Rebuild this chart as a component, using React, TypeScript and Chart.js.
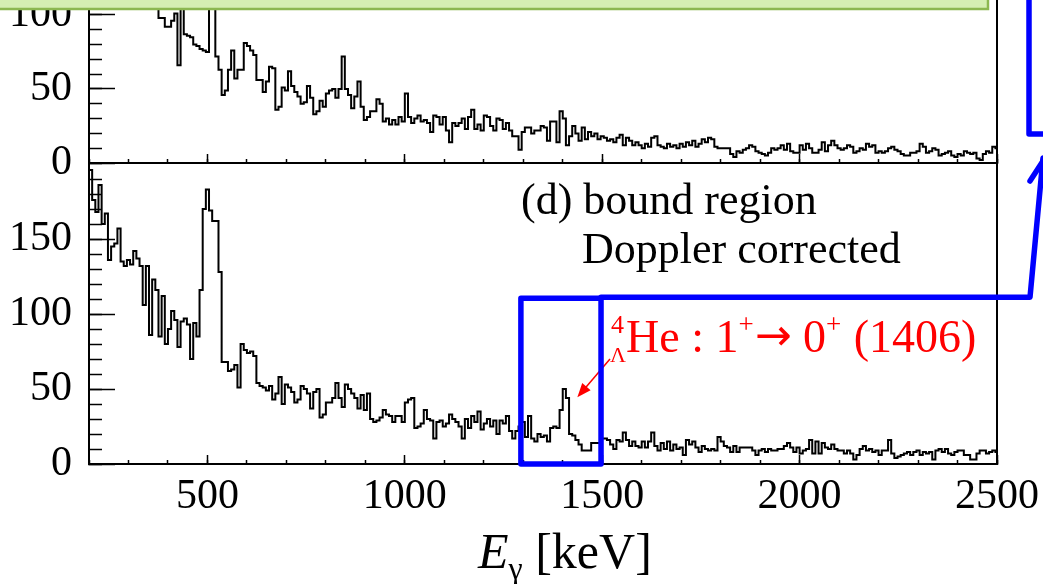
import { useEffect, useRef } from 'react';
import { Chart, registerables } from 'chart.js';

Chart.register(...registerables);

const FONT = '"Liberation Serif", "Times New Roman", Times, serif';
const ARROW_FONT = '"DejaVu Sans", sans-serif';
const RED = '#ff0000';
const BLUE = '#0000ff';

// histogram binning (keV)
const binStart = 200;
const binWidth = 8;
const energyMin = 200;
const energyMax = 2500;

// upper panel (cut off at the top of the picture)
const upperCounts = [
  250, 235, 240, 220, 210, 215, 190, 185, 175, 180, 165, 160, 155, 150, 145, 140, 135, 130, 122, 118, 109, 104, 98, 98,
  92, 92, 96, 101, 66, 118, 87, 86, 85, 80, 79, 77, 76, 75, 150, 135, 72, 63, 46, 49, 63, 76, 57, 63,
  63, 81, 79, 76, 73, 56, 56, 48, 55, 65, 64, 36, 38, 51, 49, 62, 52, 48, 45, 40, 41, 52, 44, 33,
  35, 42, 38, 47, 49, 50, 44, 50, 72, 50, 46, 37, 45, 55, 38, 29, 31, 35, 35, 43, 40, 28, 30, 26,
  29, 26, 31, 28, 47, 31, 27, 30, 32, 28, 29, 27, 21, 32, 31, 26, 31, 22, 14, 27, 25, 27, 30, 23,
  31, 36, 23, 26, 22, 32, 31, 25, 22, 30, 29, 23, 27, 22, 18, 18, 9, 21, 24, 24, 20, 22, 22, 25,
  24, 15, 28, 28, 14, 35, 30, 12, 18, 25, 20, 15, 24, 16, 21, 18, 20, 16, 18, 17, 15, 16, 14, 17,
  19, 12, 17, 15, 12, 14, 12, 10, 13, 11, 17, 18, 12, 11, 10, 13, 11, 12, 10, 13, 11, 14, 12, 15,
  11, 13, 16, 14, 17, 16, 11, 10, 10, 10, 10, 6, 4, 8, 7, 9, 10, 12, 11, 8, 7, 6, 5, 7,
  10, 9, 10, 12, 9, 13, 8, 7, 7, 12, 9, 13, 10, 7, 7, 9, 14, 8, 12, 15, 12, 10, 9, 10,
  12, 11, 7, 8, 10, 9, 13, 11, 12, 7, 8, 7, 8, 10, 11, 9, 8, 6, 5, 5, 7, 7, 8, 13,
  11, 7, 8, 10, 9, 5, 6, 7, 8, 5, 4, 6, 5, 8, 7, 6, 7, 3, 2, 6, 8, 7, 11, 10,
];

// lower panel: (d) bound region, Doppler corrected
const lowerCounts = [
  196, 176, 168, 186, 160, 167, 136, 145, 147, 157, 135, 132, 136, 133, 142, 137, 132, 106, 132, 86, 123, 116, 85, 112,
  80, 90, 102, 96, 78, 95, 97, 93, 70, 94, 85, 116, 170, 183, 169, 162, 162, 128, 68, 68, 62, 63, 66, 51,
  80, 76, 74, 75, 72, 54, 52, 51, 49, 52, 43, 47, 58, 40, 53, 51, 48, 41, 43, 52, 50, 47, 37, 48,
  50, 31, 33, 41, 41, 44, 54, 44, 38, 53, 50, 47, 44, 37, 46, 36, 47, 30, 28, 29, 31, 36, 33, 32,
  28, 32, 32, 28, 41, 43, 44, 24, 25, 27, 36, 30, 29, 17, 28, 29, 25, 27, 33, 30, 28, 25, 17, 30,
  24, 32, 28, 35, 23, 27, 30, 25, 29, 20, 29, 27, 32, 22, 17, 22, 25, 28, 18, 32, 17, 15, 20, 18,
  19, 15, 24, 25, 24, 36, 50, 44, 20, 19, 16, 13, 9, 9, 9, 14, 14, 14, 17, 17, 16, 13, 10, 16,
  15, 21, 16, 12, 15, 12, 11, 15, 11, 15, 21, 12, 9, 14, 10, 15, 9, 13, 10, 11, 6, 16, 13, 15,
  11, 8, 12, 10, 9, 10, 9, 18, 15, 12, 11, 8, 12, 8, 11, 11, 11, 11, 9, 6, 9, 10, 8, 10,
  9, 9, 10, 10, 12, 14, 11, 8, 11, 7, 9, 10, 16, 7, 15, 7, 14, 11, 10, 13, 10, 9, 9, 7,
  9, 7, 3, 6, 10, 12, 9, 10, 8, 9, 6, 9, 9, 16, 7, 4, 5, 6, 7, 8, 6, 8, 9, 6,
  8, 7, 8, 3, 9, 10, 8, 10, 7, 6, 8, 9, 9, 6, 6, 3, 3, 7, 9, 9, 7, 8, 9, 8,
];

const xMajorTicks = [500, 1000, 1500, 2000, 2500];
const xMinorTicks = [200, 300, 400, 500, 600, 700, 800, 900, 1000, 1100, 1200, 1300, 1400, 1500, 1600, 1700, 1800, 1900, 2000, 2100, 2200, 2300, 2400, 2500];
const upperYMajorTicks = [0, 50, 100];
const upperYMinorTicks = [0, 10, 20, 30, 40, 50, 60, 70, 80, 90, 100, 110];
const lowerYMajorTicks = [0, 50, 100, 150];
const lowerYMinorTicks = [0, 10, 20, 30, 40, 50, 60, 70, 80, 90, 100, 110, 120, 130, 140, 150, 160, 170, 180, 190];

const upperYMax = 110.1;
const lowerYMax = 200.7;

const panelText = ['(d) bound region', 'Doppler corrected'];
const peakText = {
  mass: '4',
  hyperon: 'Λ',
  rest: [
    { t: 'He : 1', k: 'main' },
    { t: '+', k: 'sup' },
    { t: '→', k: 'arrow' },
    { t: ' 0', k: 'main' },
    { t: '+', k: 'sup' },
    { t: ' (1406)', k: 'main' },
  ],
};
const axisTitle = { symbol: 'E', sub: 'γ', unit: ' [keV]' };

function histogramPoints(counts: number[]) {
  const pts: { x: number; y: number }[] = [];
  counts.forEach((c, i) => {
    const lo = binStart + i * binWidth;
    pts.push({ x: lo, y: c }, { x: lo + binWidth, y: c });
  });
  return pts;
}

const tickSetter = (values: number[]) => (scale: any) => {
  scale.ticks = values.map((v) => ({ value: v }));
};
const zeroPad = (s: any) => {
  s.paddingTop = 0;
  s.paddingBottom = 0;
  s.paddingLeft = 0;
  s.paddingRight = 0;
};

function buildScales(upper: boolean) {
  const tickFont = { family: FONT, size: 42 };
  const yMax = upper ? upperYMax : lowerYMax;
  return {
    xMinor: {
      type: 'linear', position: 'bottom', weight: 0, min: energyMin, max: energyMax,
      afterBuildTicks: tickSetter(xMinorTicks),
      afterFit: (s: any) => { s.height = 0; zeroPad(s); },
      ticks: { display: false },
      grid: { drawOnChartArea: false, drawTicks: true, tickLength: -4, tickWidth: 1.5, tickColor: '#000' },
      border: { display: false },
    },
    x: {
      type: 'linear', position: 'bottom', weight: 1, min: energyMin, max: energyMax,
      afterBuildTicks: tickSetter(xMajorTicks),
      afterFit: (s: any) => { s.height = upper ? 0 : 120; zeroPad(s); },
      ticks: {
        display: !upper, autoSkip: false, maxRotation: 0, minRotation: 0, padding: 17,
        font: tickFont, color: '#000', callback: (v: any) => String(v),
      },
      grid: { drawOnChartArea: false, drawTicks: true, tickLength: -9, tickWidth: 1.5, tickColor: '#000' },
      border: { display: true, color: '#000', width: 2 },
    },
    yMinor: {
      type: 'linear', position: 'left', weight: 0, min: 0, max: yMax,
      afterBuildTicks: tickSetter(upper ? upperYMinorTicks : lowerYMinorTicks),
      afterFit: (s: any) => { s.width = 0; zeroPad(s); },
      ticks: { display: false },
      grid: { drawOnChartArea: false, drawTicks: true, tickLength: -13, tickWidth: 1.5, tickColor: '#000' },
      border: { display: false },
    },
    y: {
      type: 'linear', position: 'left', weight: 1, min: 0, max: yMax,
      afterBuildTicks: tickSetter(upper ? upperYMajorTicks : lowerYMajorTicks),
      afterFit: (s: any) => { s.width = 89; zeroPad(s); },
      ticks: {
        display: true, autoSkip: false, padding: 43, font: tickFont, color: '#000',
        callback: (v: any) => String(v),
      },
      grid: { drawOnChartArea: false, drawTicks: true, tickLength: -26, tickWidth: 1.5, tickColor: '#000' },
      border: { display: true, color: '#000', width: 2 },
    },
  };
}

const upperDecor = {
  id: 'upperDecor',
  afterDraw(chart: any) {
    const ctx = chart.ctx;
    const a = chart.chartArea;
    ctx.save();
    ctx.strokeStyle = '#000';
    ctx.lineWidth = 2;
    ctx.beginPath();
    ctx.moveTo(a.right, a.top - 5);
    ctx.lineTo(a.right, a.bottom);
    ctx.stroke();
    // green title box (cut by the top of the picture)
    ctx.fillStyle = '#d5efb2';
    ctx.fillRect(-5, -5, 993, 14.5);
    ctx.strokeStyle = '#8cb850';
    ctx.lineWidth = 2.5;
    ctx.beginPath();
    ctx.moveTo(-5, 9);
    ctx.lineTo(988, 9);
    ctx.lineTo(988, -5);
    ctx.stroke();
    ctx.restore();
  },
};

const lowerDecor = {
  id: 'lowerDecor',
  afterDraw(chart: any) {
    const ctx = chart.ctx;
    const a = chart.chartArea;
    const xs = chart.scales.x;
    const ys = chart.scales.y;
    ctx.save();
    // frame
    ctx.strokeStyle = '#000';
    ctx.lineWidth = 2;
    ctx.beginPath();
    ctx.moveTo(a.left, a.top);
    ctx.lineTo(a.right, a.top);
    ctx.lineTo(a.right, a.bottom);
    ctx.stroke();

    // panel text
    ctx.fillStyle = '#000';
    ctx.textAlign = 'left';
    ctx.textBaseline = 'alphabetic';
    ctx.font = `44px ${FONT}`;
    ctx.fillText(panelText[0], 521, 214);
    ctx.fillText(panelText[1], 582, 263);

    // axis title
    let tx = 478;
    ctx.font = `italic 50px ${FONT}`;
    ctx.fillText(axisTitle.symbol, tx, 568);
    tx += ctx.measureText(axisTitle.symbol).width;
    ctx.font = `32px ${FONT}`;
    ctx.fillText(axisTitle.sub, tx, 579);
    tx += ctx.measureText(axisTitle.sub).width;
    ctx.font = `50px ${FONT}`;
    ctx.fillText(axisTitle.unit, tx, 568);

    // red peak label
    ctx.fillStyle = RED;
    let px = 610;
    ctx.font = `26px ${FONT}`;
    ctx.fillText(peakText.mass, px + 1, 333);
    ctx.font = `22px ${FONT}`;
    ctx.fillText(peakText.hyperon, px, 362);
    px += 16;
    peakText.rest.forEach((part) => {
      if (part.k === 'sup') ctx.font = `27px ${FONT}`;
      else if (part.k === 'arrow') ctx.font = `44px ${ARROW_FONT}`;
      else ctx.font = `46px ${FONT}`;
      const yb = part.k === 'sup' ? 333 : part.k === 'arrow' ? 350 : 352;
      ctx.fillText(part.t, px, yb);
      px += ctx.measureText(part.t).width + (part.k === 'sup' ? 1 : 0);
    });

    // red arrow to the 1406 keV peak
    const tipX = xs.getPixelForValue(1437);
    const tipY = ys.getPixelForValue(44.5);
    const sX = 610, sY = 359;
    const ang = Math.atan2(tipY - sY, tipX - sX);
    const hl = 14, hw = 5.5;
    ctx.strokeStyle = RED;
    ctx.lineWidth = 1.5;
    ctx.beginPath();
    ctx.moveTo(sX, sY);
    ctx.lineTo(tipX - Math.cos(ang) * hl * 0.8, tipY - Math.sin(ang) * hl * 0.8);
    ctx.stroke();
    ctx.beginPath();
    ctx.moveTo(tipX, tipY);
    ctx.lineTo(tipX - Math.cos(ang) * hl - Math.sin(ang) * hw, tipY - Math.sin(ang) * hl + Math.cos(ang) * hw);
    ctx.lineTo(tipX - Math.cos(ang) * hl + Math.sin(ang) * hw, tipY - Math.sin(ang) * hl - Math.cos(ang) * hw);
    ctx.closePath();
    ctx.fill();

    // blue highlight box and connectors
    const bx1 = xs.getPixelForValue(1294);
    const bx2 = xs.getPixelForValue(1497);
    const by1 = ys.getPixelForValue(110.5);
    const by2 = ys.getPixelForValue(0);
    ctx.strokeStyle = BLUE;
    ctx.lineWidth = 5.5;
    ctx.lineJoin = 'round';
    ctx.lineCap = 'round';
    ctx.strokeRect(bx1, by1, bx2 - bx1, by2 - by1);
    ctx.beginPath();
    ctx.moveTo(bx2, by1 - 1);
    ctx.lineTo(1030, by1 - 1);
    ctx.lineTo(1043, 158);
    ctx.stroke();
    ctx.beginPath();
    ctx.moveTo(1030, 181);
    ctx.lineTo(1043, 161);
    ctx.stroke();
    ctx.beginPath();
    ctx.moveTo(1029, -5);
    ctx.lineTo(1029, 134);
    ctx.lineTo(1050, 134);
    ctx.stroke();
    ctx.restore();
  },
};

function makeConfig(upper: boolean): any {
  return {
    type: 'line',
    data: {
      datasets: [
        {
          data: histogramPoints(upper ? upperCounts : lowerCounts),
          xAxisID: 'x',
          yAxisID: 'y',
          borderColor: '#000',
          borderWidth: 2,
          pointRadius: 0,
          fill: false,
          tension: 0,
          clip: 0,
        },
      ],
    },
    options: {
      animation: false,
      responsive: false,
      maintainAspectRatio: false,
      devicePixelRatio: 1,
      events: [],
      parsing: false,
      normalized: true,
      layout: {
        padding: upper
          ? { left: 0, right: 46, top: 0, bottom: 421 }
          : { left: 0, right: 46, top: 163, bottom: 0 },
      },
      plugins: { legend: { display: false }, tooltip: { enabled: false }, title: { display: false } },
      scales: buildScales(upper),
    },
    plugins: [upper ? upperDecor : lowerDecor],
  };
}

export default function App() {
  const upperRef = useRef<HTMLCanvasElement>(null);
  const lowerRef = useRef<HTMLCanvasElement>(null);
  useEffect(() => {
    const lower = new Chart(lowerRef.current as HTMLCanvasElement, makeConfig(false));
    const upper = new Chart(upperRef.current as HTMLCanvasElement, makeConfig(true));
    return () => {
      upper.destroy();
      lower.destroy();
    };
  }, []);
  return (
    <div style={{ position: 'fixed', left: 0, top: 0, width: 1043, height: 584, background: '#fff', overflow: 'hidden' }}>
      <canvas ref={lowerRef} width={1043} height={584} style={{ position: 'absolute', left: 0, top: 0 }} />
      <canvas ref={upperRef} width={1043} height={584} style={{ position: 'absolute', left: 0, top: 0 }} />
    </div>
  );
}
